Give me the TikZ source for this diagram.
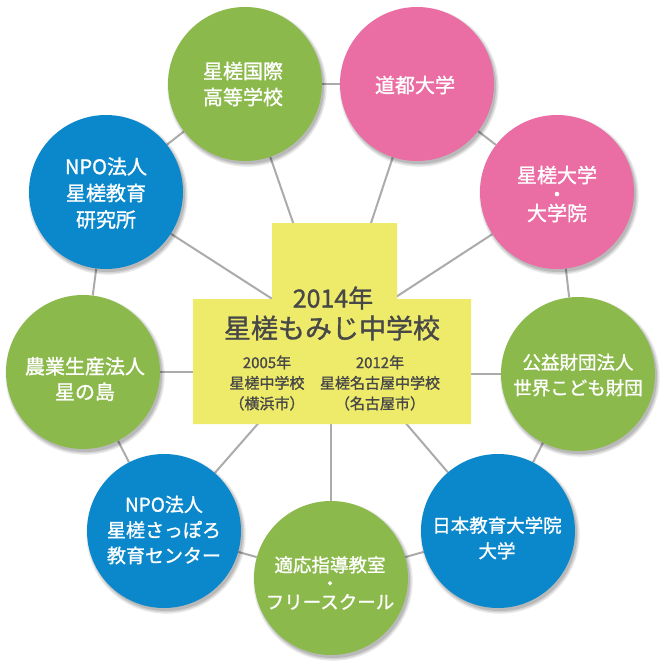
\documentclass[tikz,border=0pt]{standalone}
\usepackage{fontspec}
\setmainfont{Noto Sans CJK JP}[BoldFont=*, BoldFeatures={FakeBold=1.2}]
\usetikzlibrary{shadows}
\definecolor{cgreen}{HTML}{8CB94B}
\definecolor{cpink}{HTML}{EA6DA3}
\definecolor{cblue}{HTML}{0A88CB}
\definecolor{cyellow}{HTML}{EEEB6A}
\definecolor{cline}{HTML}{ABABAB}
\definecolor{ctext}{HTML}{484848}
\newcommand\fsz[2]{\fontsize{#1}{#2}\selectfont\bfseries}
\pgfdeclarelayer{back}
\pgfdeclarelayer{bg}
\pgfsetlayers{back,bg,main}
\begin{document}
\begin{tikzpicture}[x=1pt,y=-1pt,
  ball/.style={circle, minimum size=154pt, inner sep=0pt,
    drop shadow={shadow xshift=2pt, shadow yshift=-3pt, opacity=0.08, fill=black, shadow scale=1.035},
    drop shadow={shadow xshift=2pt, shadow yshift=-3pt, opacity=0.10, fill=black, shadow scale=1.018},
    drop shadow={shadow xshift=2pt, shadow yshift=-3pt, opacity=0.12, fill=black, shadow scale=1.0}},
  btxt/.style={text=white, align=center, inner sep=0pt},
  ctxt/.style={text=ctext, align=center, inner sep=0pt},
  link/.style={draw=cline, line width=2pt}]
\useasboundingbox (0,0) rectangle (665,665);
\begin{pgfonlayer}{back}
\fill[white] (0,0) rectangle (665,665);
\end{pgfonlayer}
% circles
\node[ball, fill=cgreen] (kokusai) at (245,84) {};
\node[ball, fill=cpink]  (doto)    at (417,84) {};
\node[ball, fill=cpink]  (seisadai) at (557,192) {};
\node[ball, fill=cgreen] (koeki)   at (578,374) {};
\node[ball, fill=cblue]  (nihon)   at (498,531) {};
\node[ball, fill=cgreen] (teki)    at (331,578) {};
\node[ball, fill=cblue]  (sapporo) at (164,531) {};
\node[ball, fill=cgreen] (nogyo)   at (83,372) {};
\node[ball, fill=cblue]  (kenkyu)  at (106,192) {};
\coordinate (hub) at (333,338);
\begin{pgfonlayer}{bg}
\draw[link] (kokusai) -- (doto);
\draw[link] (doto) -- (seisadai);
\draw[link] (seisadai) -- (koeki);
\draw[link] (koeki) -- (nihon);
\draw[link] (nihon) -- (teki);
\draw[link] (teki) -- (sapporo);
\draw[link] (sapporo) -- (nogyo);
\draw[link] (nogyo) -- (kenkyu);
\draw[link] (kenkyu) -- (kokusai);
\draw[link] (kokusai) -- (hub);
\draw[link] (doto) -- (hub);
\draw[link] (seisadai) -- (hub);
\draw[link] (kenkyu) -- (hub);
\draw[link] (sapporo) -- (hub);
\draw[link] (nihon) -- (hub);
\draw[link] (nogyo) -- (nogyo -| hub);
\draw[link] (koeki) -- (koeki -| hub);
\draw[link] (teki) -- (teki |- hub);
\end{pgfonlayer}
% central box
\fill[cyellow] (272,223) -- (397,223) -- (397,299) -- (471,299) -- (471,424)
  -- (193,424) -- (193,299) -- (272,299) -- cycle;
\node[ctxt, font=\fsz{25}{28}] (year) at (333,298) {2014年};
\node[ctxt, font=\fsz{27}{30}] (school) at (332,328) {星槎もみじ中学校};
\node[ctxt, font=\fsz{15}{20.5}] (yoko) at (267,383) {2005年\\星槎中学校\\（横浜市）};
\node[ctxt, font=\fsz{15}{20.5}] (nago) at (380,383) {2012年\\星槎名古屋中学校\\（名古屋市）};
% circle texts
\node[btxt, font=\fsz{20}{26}] (t1) at (243,84) {星槎国際\\高等学校};
\node[btxt, font=\fsz{20}{26}] (t2) at (415,85) {道都大学};
\node[btxt, font=\fsz{20}{19}] (t3) at (557,194) {星槎大学\\・\\大学院};
\node[btxt, font=\fsz{18.5}{25.5}] (t4) at (578,375) {公益財団法人\\世界こども財団};
\node[btxt, font=\fsz{18.5}{25.5}] (t5) at (497,538) {日本教育大学院\\大学};
\node[btxt, font=\fsz{18.5}{18.5}] (t6) at (330,583) {適応指導教室\\・\\フリースクール};
\node[btxt, font=\fsz{19}{25.5}] (t7) at (164,530) {NPO法人\\星槎さっぽろ\\教育センター};
\node[btxt, font=\fsz{20}{25.5}] (t8) at (85,379) {農業生産法人\\星の島};
\node[btxt, font=\fsz{20}{26.5}] (t9) at (106,193) {NPO法人\\星槎教育\\研究所};
\end{tikzpicture}
\end{document}
